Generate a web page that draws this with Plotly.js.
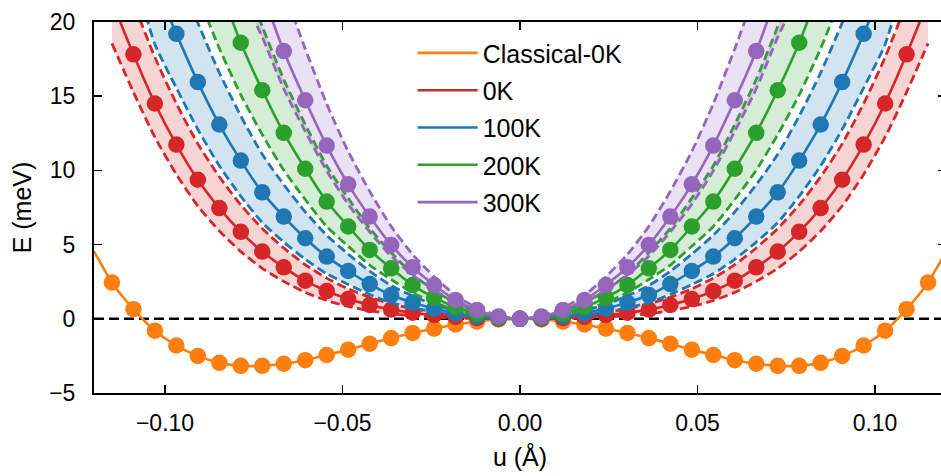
<!DOCTYPE html>
<html>
<head>
<meta charset="utf-8">
<script src="https://cdn.plot.ly/plotly-3.0.1.min.js"></script>
<style>
html, body { margin: 0; padding: 0; overflow: hidden; background: #fff; }
#chart { width: 950px; height: 476px; }
</style>
</head>
<body>
<div id="chart"></div>
<script>
// displacement grid (Å)
const uGrid = [-0.11495, -0.1089, -0.10285, -0.0968, -0.09075, -0.0847, -0.07865, -0.0726, -0.06655, -0.0605,
  -0.05445, -0.0484, -0.04235, -0.0363, -0.03025, -0.0242, -0.01815, -0.0121, -0.00605, 0,
  0.00605, 0.0121, 0.01815, 0.0242, 0.03025, 0.0363, 0.04235, 0.0484, 0.05445, 0.0605,
  0.06655, 0.0726, 0.07865, 0.0847, 0.09075, 0.0968, 0.10285, 0.1089, 0.11495];
const uEdge = [-0.12, 0.12];

// Classical-0K (meV)
const classical = [2.45, 0.65, -0.8, -1.8, -2.5, -2.97, -3.17, -3.17, -3.03, -2.79,
  -2.44, -2.08, -1.68, -1.3, -0.95, -0.66, -0.38, -0.18, -0.05, 0,
  -0.05, -0.18, -0.38, -0.66, -0.95, -1.3, -1.68, -2.08, -2.44, -2.79,
  -3.03, -3.17, -3.17, -2.97, -2.5, -1.8, -0.8, 0.65, 2.45];
const classicalEdge = [4.55, 4.55];

// 0K
const e0K = [21.4, 17.82, 14.51, 11.74, 9.37, 7.46, 5.86, 4.53, 3.47, 2.57,
  1.87, 1.33, 0.93, 0.62, 0.41, 0.25, 0.13, 0.05, 0.01, 0,
  0.01, 0.05, 0.13, 0.25, 0.41, 0.62, 0.93, 1.33, 1.87, 2.57,
  3.47, 4.53, 5.86, 7.46, 9.37, 11.74, 14.51, 17.82, 21.4];
const e0KLow = [18.56, 15.27, 12.24, 9.73, 7.6, 5.92, 4.53, 3.4, 2.52, 1.78,
  1.23, 0.83, 0.54, 0.34, 0.21, 0.12, 0.06, 0.02, 0.0, 0,
  0.0, 0.02, 0.06, 0.12, 0.21, 0.34, 0.54, 0.83, 1.23, 1.78,
  2.52, 3.4, 4.53, 5.92, 7.6, 9.73, 12.24, 15.27, 18.56];
const e0KHigh = [25.29, 21.31, 17.62, 14.5, 11.79, 9.57, 7.68, 6.08, 4.77, 3.65,
  2.74, 2.02, 1.46, 1.01, 0.68, 0.42, 0.23, 0.09, 0.02, 0,
  0.02, 0.09, 0.23, 0.42, 0.68, 1.01, 1.46, 2.02, 2.74, 3.65,
  4.77, 6.08, 7.68, 9.57, 11.79, 14.5, 17.62, 21.31, 25.29];

// 100K
const e100K = [null, null, 22.6, 19.2, 15.95, 13.09, 10.66, 8.52, 6.89, 5.43,
  4.19, 3.22, 2.34, 1.6, 1.09, 0.69, 0.38, 0.17, 0.04, 0,
  0.04, 0.17, 0.38, 0.69, 1.09, 1.6, 2.34, 3.22, 4.19, 5.43,
  6.89, 8.52, 10.66, 13.09, 15.95, 19.2, 22.6, null, null];
const e100KLow = [28.3, 23.4, 18.5, 15.56, 12.76, 10.31, 8.26, 6.48, 5.17, 4.01,
  3.04, 2.31, 1.64, 1.09, 0.74, 0.46, 0.25, 0.11, 0.03, 0,
  0.03, 0.11, 0.25, 0.46, 0.74, 1.09, 1.64, 2.31, 3.04, 4.01,
  5.17, 6.48, 8.26, 10.31, 12.76, 15.56, 18.5, 23.4, 28.3];
const e100KHigh = [39.4, 33.8, 27.74, 23.75, 19.95, 16.58, 13.67, 11.08, 9.04, 7.21,
  5.63, 4.36, 3.21, 2.24, 1.54, 0.98, 0.54, 0.24, 0.06, 0,
  0.06, 0.24, 0.54, 0.98, 1.54, 2.24, 3.21, 4.36, 5.63, 7.21,
  9.04, 11.08, 13.67, 16.58, 19.95, 23.75, 27.74, 33.8, 39.4];

// 200K
const e200K = [null, null, null, null, null, 22.4, 18.6, 15.4, 12.53, 10.11,
  7.9, 6.22, 4.64, 3.4, 2.27, 1.43, 0.8, 0.35, 0.09, 0,
  0.09, 0.35, 0.8, 1.43, 2.27, 3.4, 4.64, 6.22, 7.9, 10.11,
  12.53, 15.4, 18.6, 22.4, null, null, null, null, null];
const e200KLow = [42, 36, 30.7, 26, 21.83, 18.23, 15.09, 12.41, 10.02, 8.04,
  6.22, 4.89, 3.62, 2.65, 1.75, 1.1, 0.61, 0.27, 0.07, 0,
  0.07, 0.27, 0.61, 1.1, 1.75, 2.65, 3.62, 4.89, 6.22, 8.04,
  10.02, 12.41, 15.09, 18.23, 21.83, 26, 30.7, 36, 42];
const e200KHigh = [60, 52, 45, 39, 33.2, 28.13, 23.63, 19.69, 16.13, 13.09,
  10.31, 8.13, 6.1, 4.47, 3.01, 1.91, 1.07, 0.47, 0.12, 0,
  0.12, 0.47, 1.07, 1.91, 3.01, 4.47, 6.1, 8.13, 10.31, 13.09,
  16.13, 19.69, 23.63, 28.13, 33.2, 39, 45, 52, 60];

// 300K
const e300K = [null, null, null, null, null, null, null, 22.0, 18.04, 14.73,
  11.67, 9.06, 6.89, 4.98, 3.47, 2.28, 1.27, 0.6, 0.16, 0,
  0.16, 0.6, 1.27, 2.28, 3.47, 4.98, 6.89, 9.06, 11.67, 14.73,
  18.04, 22.0, null, null, null, null, null, null, null];
const e300KLow = [50, 44, 39, 34, 30, 26, 22.06, 18.98, 15.5, 12.63,
  9.97, 7.72, 5.86, 4.22, 2.95, 1.94, 1.08, 0.52, 0.14, 0,
  0.14, 0.52, 1.08, 1.94, 2.95, 4.22, 5.86, 7.72, 9.97, 12.63,
  15.5, 18.98, 22.06, 26, 30, 34, 39, 44, 50];
const e300KHigh = [67, 60, 53, 47, 41, 36, 31.2, 27.0, 22.24, 18.2,
  14.48, 11.28, 8.59, 6.23, 4.34, 2.84, 1.58, 0.74, 0.2, 0,
  0.2, 0.74, 1.58, 2.84, 4.34, 6.23, 8.59, 11.28, 14.48, 18.2,
  22.24, 27.0, 31.2, 36, 41, 47, 53, 60, 67];

const seriesNames = ['0K', '100K', '200K', '300K'];
const xTickVals = [-0.10, -0.05, 0.00, 0.05, 0.10];
const xTickText = ['\u22120.10', '\u22120.05', '0.00', '0.05', '0.10'];
const yTickVals = [-5, 0, 5, 10, 15, 20];
const yTickText = ['\u22125', '0', '5', '10', '15', '20'];
const zeroLevel = [0];

const FONT = 'Liberation Sans, Arial, sans-serif';
const colors = ['#d62728', '#1f77b4', '#2ca02c', '#9467bd'];
const fills = ['rgba(214,39,40,0.2)', 'rgba(31,119,180,0.2)', 'rgba(44,160,44,0.2)', 'rgba(148,103,189,0.2)'];
const centers = [e0K, e100K, e200K, e300K];
const lows = [e0KLow, e100KLow, e200KLow, e300KLow];
const highs = [e0KHigh, e100KHigh, e200KHigh, e300KHigh];

const traces = [];
// Classical line + markers
traces.push({
  x: [uEdge[0]].concat(uGrid, [uEdge[1]]),
  y: [classicalEdge[0]].concat(classical, [classicalEdge[1]]),
  mode: 'lines', name: 'Classical-0K', legendgroup: 'c',
  line: {color: '#ff7f0e', width: 2.6, shape: 'spline', smoothing: 0.6}
});
traces.push({
  x: uGrid, y: classical, mode: 'markers', showlegend: false, legendgroup: 'c',
  marker: {color: '#ff7f0e', size: 16.5}
});

for (let i = 0; i < 4; i++) {
  traces.push({
    x: uGrid, y: lows[i], mode: 'lines', showlegend: false, legendgroup: 'g' + i,
    line: {color: colors[i], width: 2.8, dash: '9px,4.5px', shape: 'spline', smoothing: 0.6}
  });
  traces.push({
    x: uGrid, y: highs[i], mode: 'lines', showlegend: false, legendgroup: 'g' + i,
    fill: 'tonexty', fillcolor: fills[i],
    line: {color: colors[i], width: 2.8, dash: '9px,4.5px', shape: 'spline', smoothing: 0.6}
  });
  traces.push({
    x: uGrid, y: centers[i], mode: 'lines', name: seriesNames[i], legendgroup: 'g' + i,
    line: {color: colors[i], width: 2.6, shape: 'spline', smoothing: 0.6}
  });
  traces.push({
    x: uGrid, y: centers[i], mode: 'markers', showlegend: false, legendgroup: 'g' + i,
    marker: {color: colors[i], size: 16.5}
  });
}

const axisCommon = {
  showline: true, linecolor: '#000', linewidth: 2, mirror: 'allticks',
  ticks: 'inside', ticklen: 8, tickwidth: 1.5, tickcolor: '#000',
  showgrid: false, zeroline: false,
  tickfont: {family: FONT, size: 23, color: '#000'}
};

const layout = {
  width: 950, height: 476,
  margin: {l: 94, r: 4, t: 22, b: 83},
  paper_bgcolor: '#fff', plot_bgcolor: '#fff',
  showlegend: true,
  legend: {
    x: 0.374, y: 0.978, xanchor: 'left', yanchor: 'top',
    bgcolor: 'rgba(0,0,0,0)', font: {family: FONT, size: 25, color: '#000'},
    tracegroupgap: 1.8, itemwidth: 60
  },
  xaxis: Object.assign({}, axisCommon, {
    range: [-0.12, 0.12], tickvals: xTickVals, ticktext: xTickText,
    ticklabelstandoff: 8,
    title: {text: 'u (Å)', font: {family: FONT, size: 25, color: '#000'}, standoff: 14}
  }),
  yaxis: Object.assign({}, axisCommon, {
    range: [-5, 20], tickvals: yTickVals, ticktext: yTickText,
    ticklabelstandoff: 12,
    title: {text: 'E (meV)', font: {family: FONT, size: 25, color: '#000'}, standoff: 10}
  }),
  shapes: [{
    type: 'line', xref: 'paper', x0: 0, x1: 1, yref: 'y', y0: zeroLevel[0], y1: zeroLevel[0],
    layer: 'below', line: {color: '#000', width: 2.6, dash: '10px,5px'}
  }]
};

Plotly.newPlot('chart', traces, layout, {displayModeBar: false, staticPlot: true});
</script>
</body>
</html>
